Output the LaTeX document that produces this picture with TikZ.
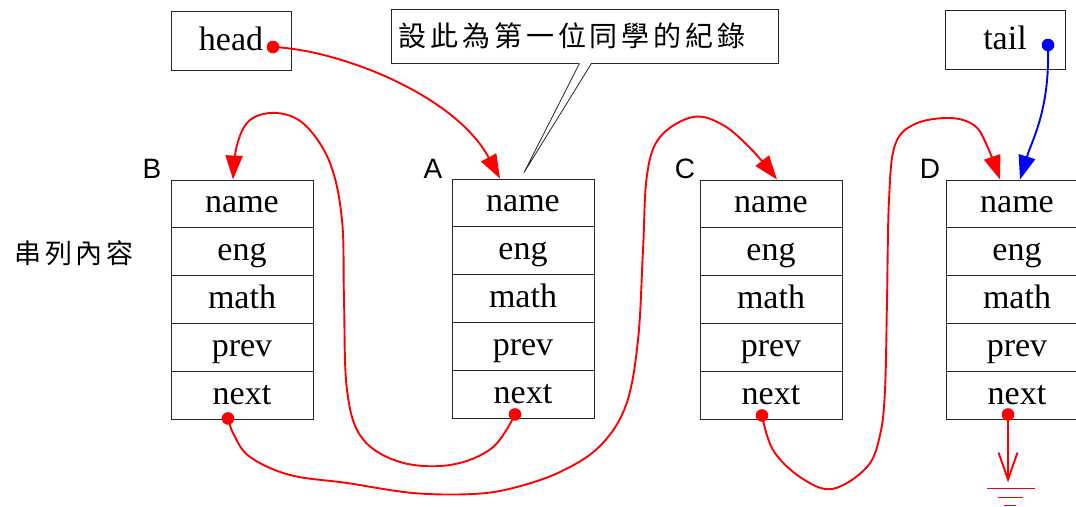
\documentclass[tikz,border=0pt]{standalone}
\usepackage{fontspec}
\setmainfont{Liberation Serif}
\setsansfont{Liberation Sans}
\newfontfamily\cjk{Noto Sans CJK TC}
\newfontfamily\cjksp[LetterSpace=14]{Noto Sans CJK TC}
\usetikzlibrary{arrows.meta,calc}
\begin{document}
\begin{tikzpicture}[x=1pt,y=-1pt,
  field/.style={draw=black!85, line width=0.9pt, minimum width=142pt, minimum height=47.8pt,
    inner sep=0pt, text height=24pt, text depth=6pt, font=\fontsize{34}{36}\selectfont},
  ptrbox/.style={draw=black!85, line width=0.9pt, minimum width=120pt, minimum height=59pt,
    inner sep=0pt, text height=24pt, text depth=6pt, font=\fontsize{34}{36}\selectfont},
  lbl/.style={font=\sffamily\fontsize{28}{30}\selectfont, inner sep=0pt, anchor=base},
  link/.style={red, line width=1.9pt, -{Triangle[length=24pt,width=17pt]}},
  blink/.style={blue, line width=1.9pt, -{Triangle[length=24pt,width=17pt]}},
]
\useasboundingbox (0,0) rectangle (1076,506);

% structures
\foreach \s/\cx/\t in {B/242/180, A/523/179, C/771/180, D/1017/180} {
  \foreach \f [count=\k from 0] in {name,eng,math,prev,next}
    \node[field] (\s\f) at (\cx, \t+23.9+47.8*\k) {\f};
}

% struct labels
\node[lbl] (lblB) at (152,178) {B};
\node[lbl] (lblA) at (433,178) {A};
\node[lbl] (lblC) at (685,178) {C};
\node[lbl] (lblD) at (930,178) {D};

% list label
\node[font=\cjksp\fontsize{27}{30}\selectfont, inner sep=0pt] (lst) at (74,253) {串列內容};

% pointer boxes
\node[ptrbox] (head) at (231,41) {head};
\node[ptrbox] (tail) at (1005,40) {tail};

% callout
\node[draw=black!85, line width=0.9pt, anchor=west, minimum height=54pt, text width=373pt,
  inner xsep=7pt, align=left, font=\cjksp\fontsize{28}{30}\selectfont] (note) at (391,36)
  {設此為第一位同學的紀錄};
\coordinate (ptip) at ($(Aname.north)+(1,-6)$);
\fill[white] ($(note.south)+(-5.5,-1)$) -- (ptip) -- ($(note.south)+(6.5,-1)$) -- cycle;
\draw[black!85, line width=0.8pt] ($(note.south)+(-5.5,0)$) -- (ptip) -- ($(note.south)+(6.5,0)$);

% dot coordinates
\coordinate (hdot) at ($(head.center)+(42,6)$);
\coordinate (tdot) at ($(tail.center)+(43,5)$);
\coordinate (Bdot) at ($(Bnext.south)+(-14,-1)$);
\coordinate (Adot) at ($(Anext.south)+(-8,-4)$);
\coordinate (Cdot) at ($(Cnext.south)+(-9,-4)$);
\coordinate (Ddot) at ($(Dnext.south)+(-9,-5)$);

% targets
\coordinate (Atop) at ($(Aname.north)+(-23,0)$);
\coordinate (Btop) at ($(Bname.north)+(-9,0)$);
\coordinate (Ctop) at ($(Cname.north)+(6,0)$);
\coordinate (Dtop) at ($(Dname.north)+(-17,0)$);
\coordinate (Dtopb) at ($(Dname.north)+(3,0)$);
\coordinate (gnd) at ($(Dnext.south)+(-9,63)$);

% links
\draw[link] (hdot) .. controls (340,50) and (455,95) .. (Atop);
\draw[link] plot[smooth, tension=0.6] coordinates {(Adot) (492,448) (450,465) (400,462) (362,438) (347,390) (344,300) (342,220) (330,163) (305,125) (277,113) (250,120) (237,145) (Btop)};
\draw[link] plot[smooth, tension=0.6] coordinates {(Bdot) (234,435) (250,457) (290,475) (347,483) (413,493) (473,494) (513,488) (560,472) (600,446) (626,405) (638,340) (643,250) (647,175) (660,137) (693,117) (723,125) (752,150) (Ctop)};
\draw[link] plot[smooth, tension=0.6] coordinates {(Cdot) (773,450) (800,477) (832,489) (867,467) (880,435) (885,390) (887,300) (889,200) (895,145) (915,124) (950,118) (975,126) (988,148) (Dtop)};
\draw[blink] (tdot) .. controls (1050,110) and (1032,140) .. (Dtopb);
\draw[red, line width=1.9pt, -{Straight Barb[length=27pt,width=19pt]}] (Ddot) -- (gnd);
\draw[red, line width=1.9pt] ($(gnd)+(-21,6)$) -- ($(gnd)+(27,6)$)
  ($(gnd)+(-10,15)$) -- ($(gnd)+(15,15)$)
  ($(gnd)+(-4,23)$) -- ($(gnd)+(8,23)$);

% dots
\fill[red] (hdot) circle (6.3pt);
\fill[blue] (tdot) circle (6.3pt);
\fill[red] (Bdot) circle (6.3pt);
\fill[red] (Adot) circle (6.3pt);
\fill[red] (Cdot) circle (6.3pt);
\fill[red] (Ddot) circle (6.3pt);
\end{tikzpicture}
\end{document}
